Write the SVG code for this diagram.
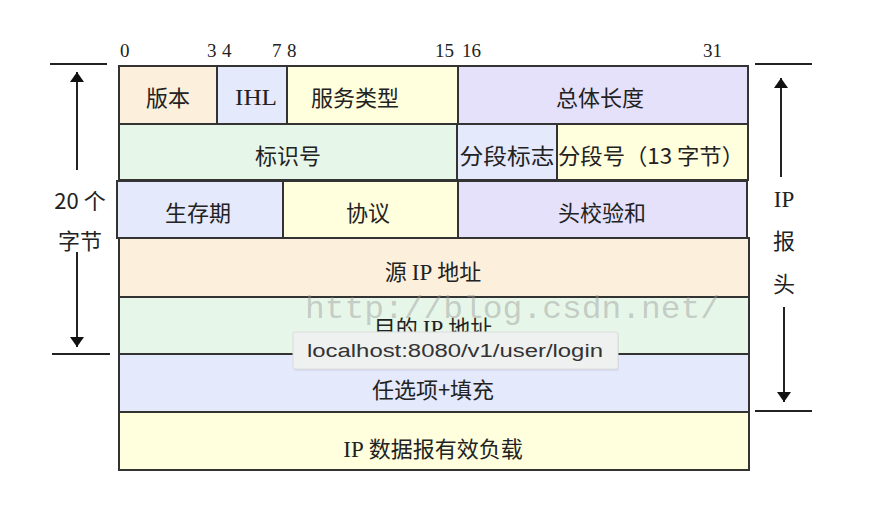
<svg xmlns="http://www.w3.org/2000/svg" width="870" height="520" viewBox="0 0 870 520">
<style>
.c{stroke:#333;stroke-width:2}
.peach{fill:#fcefdc}.blue{fill:#e4e9fb}.yel{fill:#fffedd}.lav{fill:#e5e1fb}.grn{fill:#e6f6e8}
.t{font-family:"Noto Sans CJK SC","Liberation Serif",serif;font-size:22px;fill:#222;text-anchor:middle}
.s{font-family:"Liberation Serif","Noto Sans CJK SC",serif;font-size:19px;fill:#222}
.r{font-family:"Liberation Serif",serif;font-size:23px}
.l{stroke:#222;stroke-width:2;fill:none}
</style>
<defs>
<marker id="ah" viewBox="0 0 10 14" refX="10" refY="7" markerWidth="10" markerHeight="14" markerUnits="userSpaceOnUse" orient="auto">
<path d="M0,0 L10,7 L0,14 Z" fill="#111"/>
</marker>
</defs>
<rect width="870" height="520" fill="#fff"/>
<g id="bits" class="s">
<text x="120" y="57">0</text>
<text x="207" y="57">3</text><text x="222" y="57">4</text>
<text x="272" y="57">7</text><text x="287" y="57">8</text>
<text x="435" y="57">15</text><text x="462" y="57">16</text>
<text x="703" y="57">31</text>
</g>
<g id="version"><rect class="c peach" x="119" y="66" width="98" height="58"/><text class="t" x="168" y="106">版本</text></g>
<g id="ihl"><rect class="c blue" x="217" y="66" width="70" height="58"/><text class="r" x="256" y="105" text-anchor="middle" fill="#222" textLength="42" lengthAdjust="spacingAndGlyphs">IHL</text></g>
<g id="tos"><rect class="c yel" x="287" y="66" width="171" height="58"/><text class="t" x="355" y="106">服务类型</text></g>
<g id="total-length"><rect class="c lav" x="458" y="66" width="290" height="58"/><text class="t" x="600" y="106">总体长度</text></g>
<g id="ident"><rect class="c grn" x="119" y="124" width="338" height="56"/><text class="t" x="288" y="164">标识号</text></g>
<g id="flags"><rect class="c blue" x="457" y="124" width="100" height="56"/><text class="t" x="507" y="164" textLength="95" lengthAdjust="spacingAndGlyphs">分段标志</text></g>
<g id="frag-offset"><rect class="c yel" x="557" y="124" width="191" height="56"/><text class="t" x="651" y="164" textLength="186" lengthAdjust="spacingAndGlyphs">分段号（13 字节）</text></g>
<g id="ttl"><rect class="c blue" x="117" y="181" width="166" height="57"/><text class="t" x="198" y="221">生存期</text></g>
<g id="protocol"><rect class="c yel" x="283" y="181" width="175" height="57"/><text class="t" x="368" y="221">协议</text></g>
<g id="checksum"><rect class="c lav" x="458" y="181" width="289" height="57"/><text class="t" x="602" y="221">头校验和</text></g>
<g id="src"><rect class="c peach" x="119" y="238" width="630" height="59"/><text class="t" x="433" y="280">源 <tspan class="r">IP</tspan> 地址</text></g>
<g id="dst"><rect class="c grn" x="119" y="297" width="630" height="57"/><text class="t" x="433" y="336">目的 <tspan class="r">IP</tspan> 地址</text></g>
<g id="options"><rect class="c blue" x="119" y="354" width="630" height="58"/><text class="t" x="433" y="398">任选项+填充</text></g>
<g id="payload"><rect class="c yel" x="119" y="412" width="630" height="58"/><text class="t" x="433" y="457"><tspan class="r">IP</tspan> 数据报有效负载</text></g>
<g id="left-label"><text class="t" x="80" y="209">20 个</text><text class="t" x="80" y="249">字节</text></g>
<g id="right-label"><text class="r" x="784" y="207" text-anchor="middle" fill="#222">IP</text><text class="t" x="784" y="249">报</text><text class="t" x="784" y="292">头</text></g>
<g id="connectors">
<line class="l" x1="50" y1="64" x2="107" y2="64"/>
<line class="l" x1="52" y1="354" x2="110" y2="354"/>
<line class="l" x1="755" y1="64" x2="812" y2="64"/>
<line class="l" x1="755" y1="411" x2="812" y2="411"/>
<line class="l" x1="77" y1="170" x2="77" y2="72" marker-end="url(#ah)"/>
<line class="l" x1="77" y1="252" x2="77" y2="347" marker-end="url(#ah)"/>
<line class="l" x1="781" y1="177" x2="781" y2="78" marker-end="url(#ah)"/>
<line class="l" x1="784" y1="307" x2="784" y2="402" marker-end="url(#ah)"/>
</g>
<text x="305" y="318" font-family="Liberation Mono, monospace" font-size="32" textLength="415" lengthAdjust="spacingAndGlyphs" fill="#999" fill-opacity="0.45">http://blog.csdn.net/</text>
<g id="tooltip">
<rect x="294" y="333" width="325" height="38" rx="2" fill="#000" fill-opacity="0.06"/>
<rect x="293" y="332" width="325" height="37" rx="2" fill="#eff0f0" stroke="#dcdcdc" stroke-width="1"/>
<text x="307" y="357" font-family="Liberation Sans, Arial, sans-serif" font-size="18" fill="#333" textLength="296" lengthAdjust="spacingAndGlyphs">localhost:8080/v1/user/login</text>
</g>
</svg>
